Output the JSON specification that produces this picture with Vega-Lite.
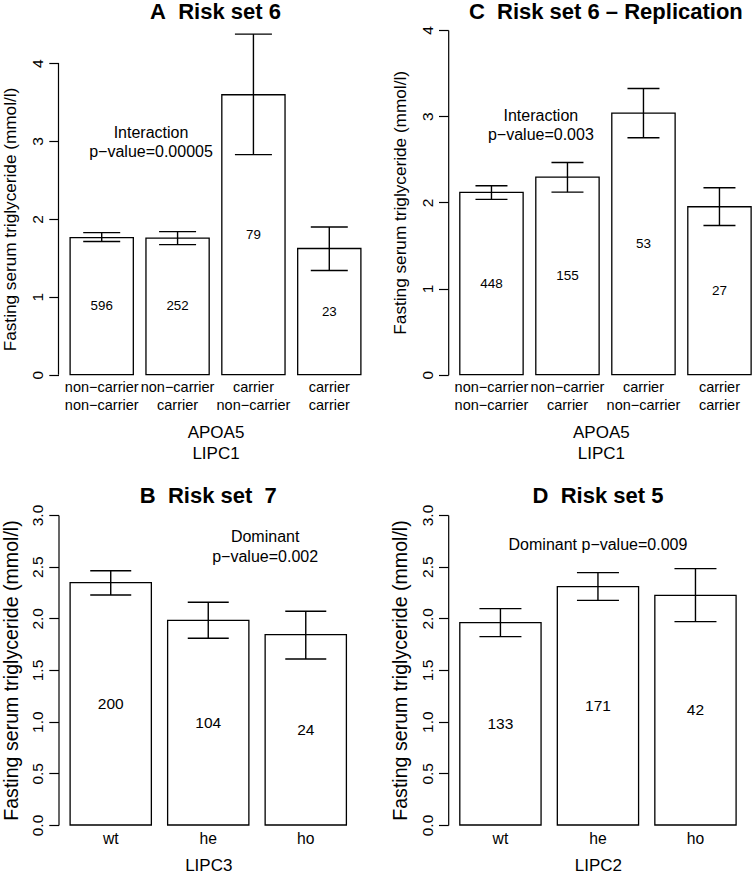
{
  "$schema": "https://vega.github.io/schema/vega-lite/v6.json",
  "background": "white",
  "padding": {"left": 0.5, "top": 0, "right": 0, "bottom": 0},
  "datasets": {
    "bars": [
      {"panel": "A", "cat": "non−carrier|non−carrier", "mean": 1.76, "lo": 1.709, "hi": 1.824, "n": "596"},
      {"panel": "A", "cat": "non−carrier|carrier", "mean": 1.752, "lo": 1.67, "hi": 1.837, "n": "252"},
      {"panel": "A", "cat": "carrier|non−carrier", "mean": 3.594, "lo": 2.825, "hi": 4.372, "n": "79"},
      {"panel": "A", "cat": "carrier|carrier", "mean": 1.62, "lo": 1.337, "hi": 1.897, "n": "23"},
      {"panel": "C", "cat": "non−carrier|non−carrier", "mean": 2.115, "lo": 2.034, "hi": 2.193, "n": "448"},
      {"panel": "C", "cat": "non−carrier|carrier", "mean": 2.293, "lo": 2.119, "hi": 2.463, "n": "155"},
      {"panel": "C", "cat": "carrier|non−carrier", "mean": 3.036, "lo": 2.749, "hi": 3.322, "n": "53"},
      {"panel": "C", "cat": "carrier|carrier", "mean": 1.949, "lo": 1.732, "hi": 2.169, "n": "27"},
      {"panel": "B", "cat": "wt", "mean": 2.345, "lo": 2.226, "hi": 2.461, "n": "200"},
      {"panel": "B", "cat": "he", "mean": 1.981, "lo": 1.807, "hi": 2.155, "n": "104"},
      {"panel": "B", "cat": "ho", "mean": 1.842, "lo": 1.606, "hi": 2.068, "n": "24"},
      {"panel": "D", "cat": "wt", "mean": 1.958, "lo": 1.823, "hi": 2.094, "n": "133"},
      {"panel": "D", "cat": "he", "mean": 2.306, "lo": 2.174, "hi": 2.442, "n": "171"},
      {"panel": "D", "cat": "ho", "mean": 2.223, "lo": 1.968, "hi": 2.481, "n": "42"}
    ]
  },
  "columns": 2,
  "spacing": {"row": 140, "column": 75.7},
  "bounds": "flush",
  "concat": [
    {
      "title": {"text": "A\u00a0\u00a0Risk set 6", "offset": 6.4},
      "width": 314,
      "height": 344.7,
      "data": {"name": "bars"},
      "transform": [{"filter": "datum.panel === 'A'"}, {"calculate": "datum.mean / 2", "as": "mid"}],
      "encoding": {
        "x": {"field": "cat", "type": "nominal", "sort": null,
              "scale": {"paddingInner": 0.1667, "paddingOuter": 0.153},
              "axis": {"title": ["APOA5", "LIPC1"], "labelExpr": "split(datum.label, '|')", "labelFontSize": 14.5, "titlePadding": 12}}
      },
      "layer": [
        {"mark": {"type": "bar", "fill": "white", "stroke": "black", "strokeWidth": 1.3},
         "encoding": {"y": {"field": "mean", "type": "quantitative",
                            "scale": {"domain": [0, 4.425], "nice": false, "zero": true},
                            "axis": {"values": [0, 1, 2, 3, 4], "format": "d", "domain": false,
                                     "title": "Fasting serum triglyceride (mmol/l)", "titleFontSize": 17.2, "titlePadding": 11, "titleY": 189}}}},
        {"data": {"values": [{}]},
         "mark": {"type": "rule", "color": "black", "strokeWidth": 1.2},
         "encoding": {"x": {"datum": "non−carrier|non−carrier", "type": "nominal", "bandPosition": -0.1837},
                      "y": {"datum": 0, "type": "quantitative"}, "y2": {"datum": 4}}},
        {"mark": {"type": "rule", "color": "black", "strokeWidth": 1.4},
         "encoding": {"y": {"field": "lo", "type": "quantitative"}, "y2": {"field": "hi"}}},
        {"mark": {"type": "tick", "color": "black", "thickness": 1.4, "size": 37, "opacity": 1},
         "encoding": {"y": {"field": "lo", "type": "quantitative"}}},
        {"mark": {"type": "tick", "color": "black", "thickness": 1.4, "size": 37, "opacity": 1},
         "encoding": {"y": {"field": "hi", "type": "quantitative"}}},
        {"mark": {"type": "text", "fontSize": 13.3, "color": "black", "baseline": "middle"},
         "encoding": {"y": {"field": "mid", "type": "quantitative"}, "text": {"field": "n"}}},
        {"data": {"values": [{}]},
         "mark": {"type": "text", "fontSize": 16, "color": "black", "baseline": "middle", "lineHeight": 19.5,
                  "text": ["Interaction", "p−value=0.00005"]},
         "encoding": {"x": {"datum": "non−carrier|carrier", "type": "nominal", "bandPosition": 0.08},
                      "y": {"datum": 3.106, "type": "quantitative"}}}
      ]
    },
    {
      "title": {"text": "C\u00a0\u00a0Risk set 6 – Replication", "dx": 5, "offset": 2.1},
      "width": 305.3,
      "height": 344.7,
      "data": {"name": "bars"},
      "transform": [{"filter": "datum.panel === 'C'"}, {"calculate": "datum.mean / 2", "as": "mid"}],
      "encoding": {
        "x": {"field": "cat", "type": "nominal", "sort": null,
              "scale": {"paddingInner": 0.1667, "paddingOuter": 0.092, "align": 0.83},
              "axis": {"title": ["APOA5", "LIPC1"], "labelExpr": "split(datum.label, '|')", "labelFontSize": 14.5, "titlePadding": 12}}
      },
      "layer": [
        {"mark": {"type": "bar", "fill": "white", "stroke": "black", "strokeWidth": 1.3},
         "encoding": {"y": {"field": "mean", "type": "quantitative",
                            "scale": {"domain": [0, 4], "nice": false, "zero": true},
                            "axis": {"values": [0, 1, 2, 3, 4], "format": "d",
                                     "title": "Fasting serum triglyceride (mmol/l)", "titleFontSize": 17.2, "titlePadding": 11}}}},
        {"mark": {"type": "rule", "color": "black", "strokeWidth": 1.4},
         "encoding": {"y": {"field": "lo", "type": "quantitative"}, "y2": {"field": "hi"}}},
        {"mark": {"type": "tick", "color": "black", "thickness": 1.4, "size": 32, "opacity": 1},
         "encoding": {"y": {"field": "lo", "type": "quantitative"}}},
        {"mark": {"type": "tick", "color": "black", "thickness": 1.4, "size": 32, "opacity": 1},
         "encoding": {"y": {"field": "hi", "type": "quantitative"}}},
        {"mark": {"type": "text", "fontSize": 13.5, "color": "black", "baseline": "middle"},
         "encoding": {"y": {"field": "mid", "type": "quantitative"}, "text": {"field": "n"}}},
        {"data": {"values": [{}]},
         "mark": {"type": "text", "fontSize": 16, "color": "black", "baseline": "middle", "lineHeight": 19.5,
                  "text": ["Interaction", "p−value=0.003"]},
         "encoding": {"x": {"datum": "non−carrier|carrier", "type": "nominal", "bandPosition": 0.08},
                      "y": {"datum": 3.005, "type": "quantitative"}}}
      ]
    },
    {
      "title": {"text": "B\u00a0\u00a0Risk set\u00a0\u00a07", "offset": -4.2},
      "width": 299.5,
      "height": 310,
      "data": {"name": "bars"},
      "transform": [{"filter": "datum.panel === 'B'"}, {"calculate": "datum.mean / 2", "as": "mid"}],
      "encoding": {
        "x": {"field": "cat", "type": "nominal", "sort": null,
              "scale": {"paddingInner": 0.1667, "paddingOuter": 0.119},
              "axis": {"title": "LIPC3", "labelFontSize": 15.7, "titlePadding": 12}}
      },
      "layer": [
        {"mark": {"type": "bar", "fill": "white", "stroke": "black", "strokeWidth": 1.3},
         "encoding": {"y": {"field": "mean", "type": "quantitative",
                            "scale": {"domain": [0, 3], "nice": false, "zero": true},
                            "axis": {"values": [0, 0.5, 1, 1.5, 2, 2.5, 3], "format": ".1f",
                                     "title": "Fasting serum triglyceride (mmol/l)", "titleFontSize": 19.6, "titlePadding": 9.6}}}},
        {"mark": {"type": "rule", "color": "black", "strokeWidth": 1.4},
         "encoding": {"y": {"field": "lo", "type": "quantitative"}, "y2": {"field": "hi"}}},
        {"mark": {"type": "tick", "color": "black", "thickness": 1.4, "size": 41, "opacity": 1},
         "encoding": {"y": {"field": "lo", "type": "quantitative"}}},
        {"mark": {"type": "tick", "color": "black", "thickness": 1.4, "size": 41, "opacity": 1},
         "encoding": {"y": {"field": "hi", "type": "quantitative"}}},
        {"mark": {"type": "text", "fontSize": 15.5, "color": "black", "baseline": "middle"},
         "encoding": {"y": {"field": "mid", "type": "quantitative"}, "text": {"field": "n"}}},
        {"data": {"values": [{}]},
         "mark": {"type": "text", "fontSize": 16, "color": "black", "baseline": "middle", "lineHeight": 19.5,
                  "text": ["Dominant", "p−value=0.002"]},
         "encoding": {"x": {"datum": "ho", "type": "nominal", "bandPosition": 0},
                      "y": {"datum": 2.787, "type": "quantitative"}}}
      ]
    },
    {
      "title": {"text": "D\u00a0\u00a0Risk set 5", "offset": -4.2},
      "width": 299.5,
      "height": 310,
      "data": {"name": "bars"},
      "transform": [{"filter": "datum.panel === 'D'"}, {"calculate": "datum.mean / 2", "as": "mid"}],
      "encoding": {
        "x": {"field": "cat", "type": "nominal", "sort": null,
              "scale": {"paddingInner": 0.1667, "paddingOuter": 0.119},
              "axis": {"title": "LIPC2", "labelFontSize": 15.7, "titlePadding": 12}}
      },
      "layer": [
        {"mark": {"type": "bar", "fill": "white", "stroke": "black", "strokeWidth": 1.3},
         "encoding": {"y": {"field": "mean", "type": "quantitative",
                            "scale": {"domain": [0, 3], "nice": false, "zero": true},
                            "axis": {"values": [0, 0.5, 1, 1.5, 2, 2.5, 3], "format": ".1f",
                                     "title": "Fasting serum triglyceride (mmol/l)", "titleFontSize": 19.6, "titlePadding": 9.6}}}},
        {"mark": {"type": "rule", "color": "black", "strokeWidth": 1.4},
         "encoding": {"y": {"field": "lo", "type": "quantitative"}, "y2": {"field": "hi"}}},
        {"mark": {"type": "tick", "color": "black", "thickness": 1.4, "size": 42, "opacity": 1},
         "encoding": {"y": {"field": "lo", "type": "quantitative"}}},
        {"mark": {"type": "tick", "color": "black", "thickness": 1.4, "size": 42, "opacity": 1},
         "encoding": {"y": {"field": "hi", "type": "quantitative"}}},
        {"mark": {"type": "text", "fontSize": 15.5, "color": "black", "baseline": "middle"},
         "encoding": {"y": {"field": "mid", "type": "quantitative"}, "text": {"field": "n"}}},
        {"data": {"values": [{}]},
         "mark": {"type": "text", "fontSize": 16, "color": "black", "baseline": "middle",
                  "text": "Dominant p−value=0.009"},
         "encoding": {"x": {"datum": "he", "type": "nominal", "bandPosition": 0.5},
                      "y": {"datum": 2.71, "type": "quantitative"}}}
      ]
    }
  ],
  "config": {
    "font": "Liberation Sans",
    "view": {"stroke": null},
    "title": {"fontSize": 22, "fontWeight": "bold", "color": "black", "anchor": "middle", "frame": "group"},
    "axisY": {"grid": false, "domainColor": "black", "domainWidth": 1.2, "tickColor": "black", "tickWidth": 1.2,
              "tickSize": 9.7, "labelAngle": -90, "labelAlign": "center", "labelBaseline": "alphabetic",
              "labelPadding": 6, "labelFontSize": 15.5, "labelColor": "black", "labelFlush": false, "labelOverlap": false,
              "titleFontWeight": "normal", "titleColor": "black"},
    "axisX": {"domain": false, "ticks": false, "tickSize": 0, "labelAngle": 0, "labelColor": "black",
              "labelPadding": 6, "labelBaseline": "top", "labelLineHeight": 18, "labelOverlap": false, "labelBound": false,
              "titleFontSize": 17, "titleFontWeight": "normal", "titleColor": "black", "titleLineHeight": 21}
  }
}
